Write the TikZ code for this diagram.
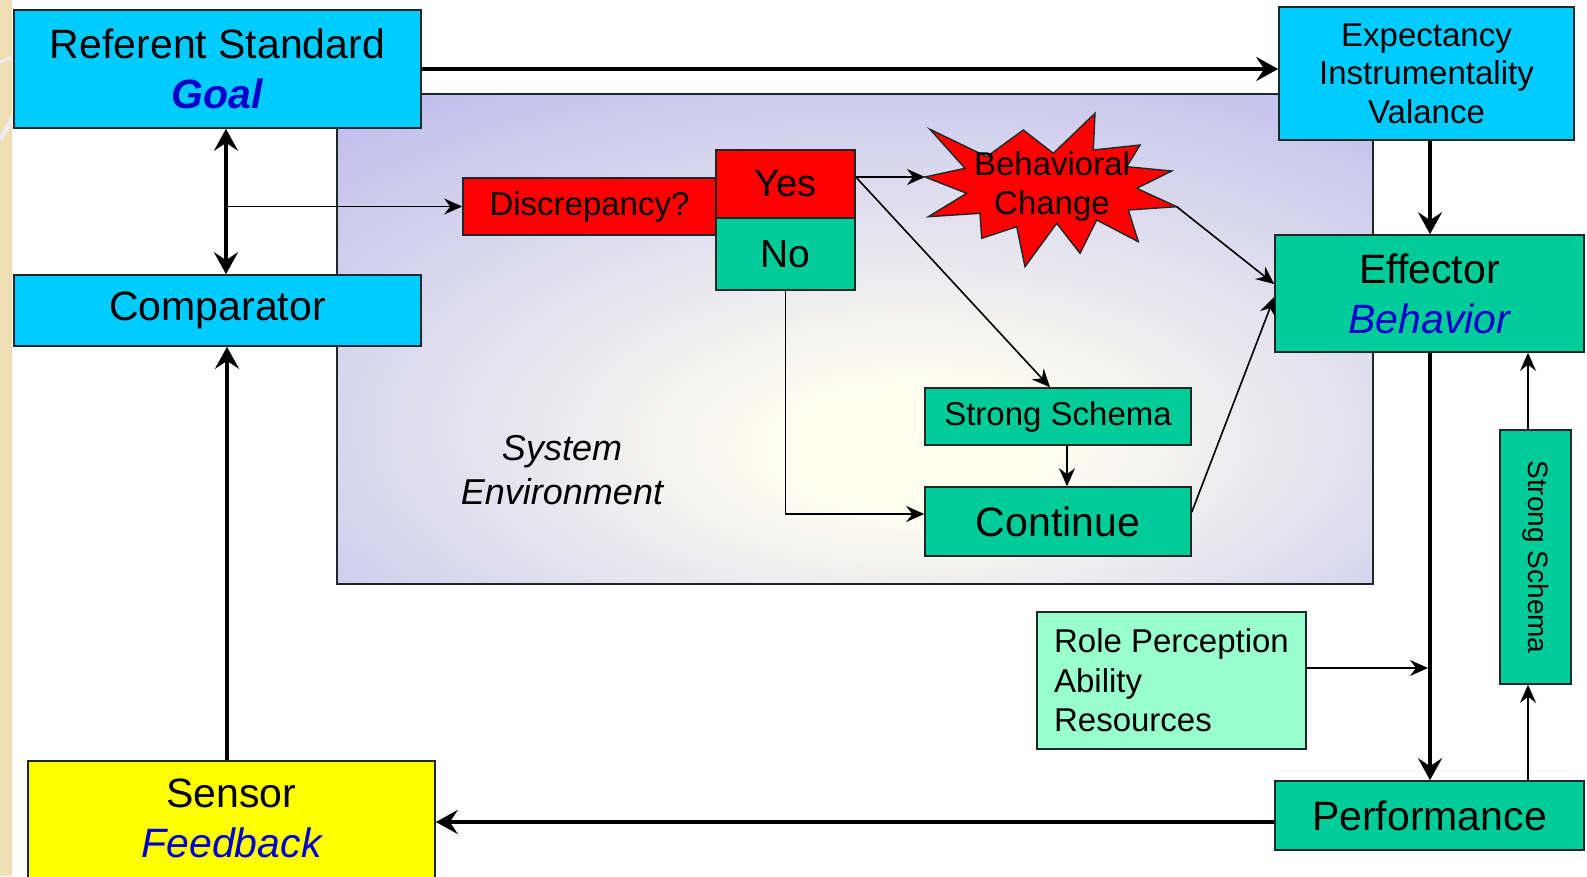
\documentclass[tikz,border=0pt]{standalone}
\usepackage{fontspec}
\setmainfont{Liberation Sans}
\usetikzlibrary{arrows.meta}
\definecolor{cyanbox}{RGB}{0,204,255}
\definecolor{greenbox}{RGB}{0,204,153}
\definecolor{lightgreen}{RGB}{153,255,204}
\definecolor{redbox}{RGB}{255,0,0}
\definecolor{yellowbox}{RGB}{255,255,0}
\definecolor{bluetext}{RGB}{0,0,204}
\definecolor{envin}{RGB}{255,255,240}
\definecolor{envout}{RGB}{182,178,236}
\definecolor{edge}{RGB}{30,40,40}
\definecolor{strip}{RGB}{238,222,178}
\pgfdeclareradialshading{envshade}{\pgfpoint{3bp}{-12bp}}{color(0bp)=(envin); color(6bp)=(envin); color(46bp)=(envout); color(100bp)=(envout)}
\begin{document}
\begin{tikzpicture}[x=1pt,y=-1pt,
  box/.style={draw=edge,line width=1.6pt,inner sep=0pt,align=center},
  big/.style={font=\fontsize{41}{50}\selectfont},
  mid/.style={font=\fontsize{33}{38.5}\selectfont},
  thk/.style={line width=4.5pt,-{Stealth[length=22pt,width=24pt,inset=8pt]}},
  thn/.style={line width=1.6pt,-{Stealth[length=18pt,width=16pt,inset=6pt]}},
  twoway/.style={line width=4.5pt,{Stealth[length=22pt,width=24pt,inset=8pt]}-{Stealth[length=22pt,width=24pt,inset=8pt]}}
]
\useasboundingbox (0,0) rectangle (1587,876);
\fill[white] (0,0) rectangle (1587,876);
\fill[strip] (0,0) rectangle (12,876);
\draw[white!85!gray,line width=3pt] (0,62) .. controls (5,60) and (10,58) .. (14,57);
\draw[white!85!gray,line width=5pt] (0,140) .. controls (5,132) and (10,122) .. (14,115);

% system environment
\shade[shading=envshade] (337,94) rectangle (1373,584);
\draw[edge,line width=1.6pt] (337,94) rectangle (1373,584);
\node[font=\fontsize{36}{44}\selectfont\itshape,align=center] (envtxt) at (562,470) {System\\Environment};

% boxes
\node[box,fill=cyanbox,big,minimum width=407pt,minimum height=118pt] (ref) at (217.5,69) {Referent Standard\\{\color{bluetext}\bfseries\itshape Goal}};
\node[box,fill=cyanbox,big,minimum width=407pt,minimum height=71pt] (comp) at (217.5,310.5) {Comparator};
\node[box,fill=yellowbox,minimum width=407pt,minimum height=130pt] (sens) at (231.5,826) {};
\node[big,align=center] (senstxt) at (231.5,818.5) {Sensor\\{\color{bluetext}\itshape Feedback}};
\node[box,fill=cyanbox,mid,minimum width=295pt,minimum height=133pt] (exp) at (1426.5,73.5) {Expectancy\\Instrumentality\\Valance};
\node[box,fill=greenbox,big,minimum width=309pt,minimum height=117pt] (eff) at (1429.5,293.5) {Effector\\{\color{bluetext}\itshape Behavior}};
\node[box,fill=greenbox,big,minimum width=309pt,minimum height=69pt] (perf) at (1429.5,815.5) {Performance};
\node[box,fill=greenbox,font=\fontsize{28}{34}\selectfont,minimum width=254pt,minimum height=71pt,rotate=-90] (ssv) at (1535.5,557) {Strong Schema};
\node[box,fill=lightgreen,font=\fontsize{33}{39.5}\selectfont,align=left,minimum width=269pt,minimum height=137pt] (rp) at (1171.5,680.5) {Role Perception\\Ability\\Resources};
\node[box,fill=greenbox,mid,minimum width=266pt,minimum height=57pt] (ss) at (1058,416.5) {Strong Schema};
\node[box,fill=greenbox,big,minimum width=266pt,minimum height=69pt] (cont) at (1058,521.5) {Continue};
\node[box,fill=redbox,mid,minimum width=253pt,minimum height=57pt] (disc) at (589.5,206.5) {Discrepancy?};
\node[box,fill=redbox,font=\fontsize{38}{44}\selectfont,minimum width=139pt,minimum height=68pt] (yes) at (785.5,184) {Yes};
\node[box,fill=greenbox,font=\fontsize{39}{44}\selectfont,minimum width=139pt,minimum height=72pt] (no) at (785.5,254) {No};

% star
\coordinate (bcL) at (925,177);
\coordinate (bcR) at (1176.7,206.7);
\filldraw[fill=redbox,draw=edge,line width=1.4pt] (bcL) -- (965,168.3) -- (930,129.3) -- (986.7,156.7) -- (1023.3,130) -- (1053.3,153.3) -- (1095,113.3) -- (1093.3,150) -- (1140,145) -- (1126.7,166.7) -- (1171.7,171) -- (1136.7,188.3) -- (bcR) -- (1128.3,210) -- (1138.3,241.7) -- (1096.7,220) -- (1080,253.3) -- (1056.7,223.3) -- (1025,266.7) -- (1016.7,226.7) -- (981.7,238.3) -- (980,213.3) -- (928.3,216.7) -- (966.7,193.3) -- cycle;
\node[font=\fontsize{33}{39}\selectfont,align=center] (bc) at (1052,186.5) {Behavioral\\Change};

% helper coordinates
\coordinate (dax) at (226,206.5);
\coordinate (sax) at (227,600);
\coordinate (pay) at (900,822);
\coordinate (eax) at (1430,0);
\coordinate (rpy) at (1300,668);
\coordinate (vax) at (1528,0);

% thick connectors
\draw[thk] (ref.east) -- (ref.east -| exp.west);
\draw[twoway] (dax |- ref.south) -- (dax |- comp.north);
\draw[thk] (sax |- sens.north) -- (sax |- comp.south);
\draw[thk] (pay -| perf.west) -- (pay -| sens.east);
\draw[thk] (eax |- exp.south) -- (eax |- eff.north);
\draw[thk] (eax |- eff.south) -- (eax |- perf.north);

% thin connectors
\draw[thn] (dax) -- (disc.west);
\draw[thn] (yes.east |- bcL) -- (bcL);
\draw[thn] (yes.east |- bcL) -- ([xshift=-8pt]ss.north);
\draw[thn] (bcR) -- ([yshift=9.5pt]eff.west);
\draw[thn] ([yshift=9.5pt]cont.east) -- ([yshift=-3.5pt]eff.west);
\draw[thn] ([xshift=9pt]ss.south) -- ([xshift=9pt]ss.south |- cont.north);
\draw[thn] (no.south) |- ([yshift=7.5pt]cont.west);
\draw[thn] (rpy -| rp.east) -- ([xshift=-2pt]rpy -| eax);
\draw[thn] (vax |- perf.north) -- (vax |- ssv.east);
\draw[thn] (vax |- ssv.west) -- (vax |- eff.south);
\end{tikzpicture}
\end{document}
